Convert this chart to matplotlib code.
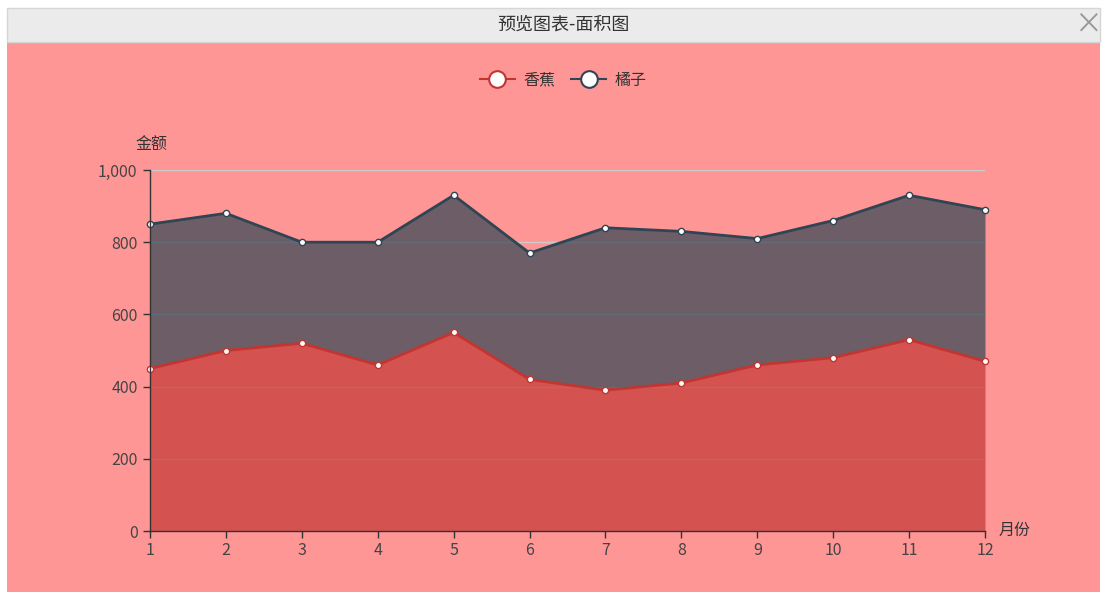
import matplotlib.pyplot as plt
from matplotlib.lines import Line2D
from matplotlib.patches import Rectangle

plt.rcParams['font.family'] = ['Noto Sans CJK SC', 'DejaVu Sans']

months = [1, 2, 3, 4, 5, 6, 7, 8, 9, 10, 11, 12]
banana = [450, 500, 520, 460, 550, 420, 390, 410, 460, 480, 530, 470]
orange = [400, 380, 280, 340, 380, 350, 450, 420, 350, 380, 400, 420]
series_names = ['香蕉', '橘子']
colors = ['#c23531', '#2f4554']

top = [b + o for b, o in zip(banana, orange)]

W, H = 1105, 592
fig = plt.figure(figsize=(W / 100, H / 100), dpi=100, facecolor='white')

# window background + title bar
fig.patches.append(Rectangle((7 / W, 0), 1093 / W, 550 / H, transform=fig.transFigure,
                             facecolor='#ff9696', edgecolor='none', zorder=-2))
fig.patches.append(Rectangle((7 / W, 550 / H), 1093 / W, 34 / H, transform=fig.transFigure,
                             facecolor='#ebebeb', edgecolor='#d6d6d6', linewidth=1, zorder=-2))
fig.text(563 / W, (H - 25) / H, '预览图表-面积图', ha='center', va='center', fontsize=13, color='#333333')
fig.text(1088 / W, (H - 25) / H, '×', ha='center', va='center', fontsize=20, color='#999999')

ax = fig.add_axes([150 / W, (H - 531) / H, 835 / W, 361 / H])
ax.set_zorder(2)
ax.set_facecolor('none')

ax.fill_between(months, 0, banana, color=colors[0], alpha=0.7, linewidth=0, zorder=2)
ax.fill_between(months, banana, top, color=colors[1], alpha=0.7, linewidth=0, zorder=2)
ax.plot(months, banana, color=colors[0], lw=2, marker='o', ms=4.5, mfc='white', mec=colors[0], mew=1,
        zorder=4, clip_on=False)
ax.plot(months, top, color=colors[1], lw=2, marker='o', ms=4.5, mfc='white', mec=colors[1], mew=1,
        zorder=4, clip_on=False)

ax.set_xlim(1, 12)
ax.set_ylim(0, 1000)
ax.set_xticks(months)
ax.set_yticks([0, 200, 400, 600, 800, 1000])
ax.set_yticklabels(['0', '200', '400', '600', '800', '1,000'])
ax.yaxis.grid(True, color='#cccccc', lw=1, zorder=1)
ax.set_axisbelow(True)
for s in ['top', 'right']:
    ax.spines[s].set_visible(False)
for s in ['left', 'bottom']:
    ax.spines[s].set_color('#333333')
    ax.spines[s].set_linewidth(1)
    ax.spines[s].set_zorder(5)
ax.tick_params(axis='both', colors='#333333', labelcolor='#444444', labelsize=11.5, length=5, width=1)
ax.tick_params(axis='y', pad=4)
ax.tick_params(axis='x', pad=3)

fig.text(151 / W, (H - 145) / H, '金额', ha='center', va='center', fontsize=11.5, color='#333333')
fig.text(999 / W, (H - 530) / H, '月份', ha='left', va='center', fontsize=11.5, color='#333333')

handles = [Line2D([0], [0], color=c, lw=1.5, marker='o', ms=12, mfc='white', mec=c, mew=1.5)
           for c in colors]
leg = fig.legend(handles, series_names, loc='center', bbox_to_anchor=(563 / W, (H - 80) / H), ncol=2,
                 frameon=False, fontsize=11.5, handlelength=2.2, handletextpad=0.5, columnspacing=1.0)
for t in leg.get_texts():
    t.set_color('#333333')

fig.savefig('out.png', dpi=100, facecolor='white')
